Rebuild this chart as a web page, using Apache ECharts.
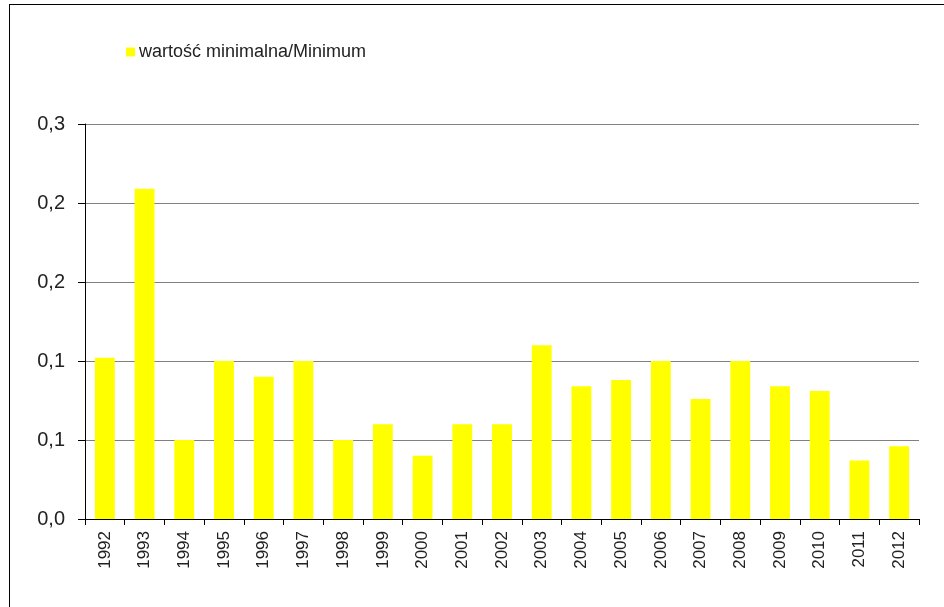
<!DOCTYPE html>
<html lang="pl">

<head>
    <meta charset="UTF-8">
    <meta name="viewport" content="width=device-width, initial-scale=1.0">
    <title>Minimum</title>
    <style>
        html,
        body {
            margin: 0;
            padding: 0;
            background: #fff;
            overflow: hidden;
        }

        .container {
            width: 944px;
            height: 607px;
        }

        .frame {
            position: absolute;
            left: 9px;
            top: 4px;
            width: 935px;
            height: 603px;
            box-sizing: border-box;
            border-left: 1px solid #000;
            border-top: 1px solid #000;
            pointer-events: none;
        }
    </style>
</head>

<body>
    <div id="container" class="container"></div>
    <div class="frame"></div>
    <script src="https://cdn.jsdelivr.net/npm/echarts@6/dist/echarts.min.js"></script>
    <script>
        // data
        var years = ['1992', '1993', '1994', '1995', '1996', '1997', '1998', '1999', '2000', '2001', '2002',
            '2003', '2004', '2005', '2006', '2007', '2008', '2009', '2010', '2011', '2012'];
        var minimum = [0.102, 0.209, 0.05, 0.1, 0.09, 0.1, 0.05, 0.06, 0.04, 0.06, 0.06,
            0.11, 0.084, 0.088, 0.1, 0.076, 0.1, 0.084, 0.081, 0.037, 0.046];
        var seriesName = 'wartość minimalna/Minimum';

        var dom = document.getElementById("container");
        var myChart = echarts.init(dom);
        var font = 'Arial, "Liberation Sans", sans-serif';

        var option = {
            animation: false,
            textStyle: { fontFamily: font },
            legend: {
                left: 121,
                top: 38,
                icon: 'rect',
                itemWidth: 9,
                itemHeight: 9,
                textStyle: { fontSize: 18, color: '#222', fontFamily: font, padding: [0, 0, 0, -1] },
                data: [seriesName]
            },
            grid: {
                left: 85,
                right: 25,
                top: 124,
                bottom: 88
            },
            xAxis: {
                type: 'category',
                data: years,
                boundaryGap: true,
                axisLine: { lineStyle: { color: '#000', width: 1 } },
                axisTick: { show: true, length: 6, lineStyle: { color: '#000' } },
                axisLabel: {
                    rotate: 90,
                    margin: 12,
                    fontSize: 17,
                    color: '#222',
                    fontFamily: font,
                    interval: 0
                }
            },
            yAxis: {
                type: 'value',
                min: 0,
                max: 0.25,
                interval: 0.05,
                axisLine: { show: true, lineStyle: { color: '#000', width: 1 } },
                axisTick: { show: true, length: 7, lineStyle: { color: '#000' } },
                splitLine: { lineStyle: { color: '#808080', width: 1 } },
                axisLabel: {
                    margin: 20,
                    fontSize: 20,
                    color: '#222',
                    fontFamily: font,
                    formatter: function (v) {
                        return (Math.round(v * 10) / 10).toFixed(1).replace('.', ',');
                    }
                }
            },
            series: [
                {
                    name: seriesName,
                    type: 'bar',
                    data: minimum,
                    barWidth: '50%',
                    itemStyle: { color: '#FFFF00' }
                }
            ]
        };

        myChart.setOption(option);
    </script>
</body>

</html>
